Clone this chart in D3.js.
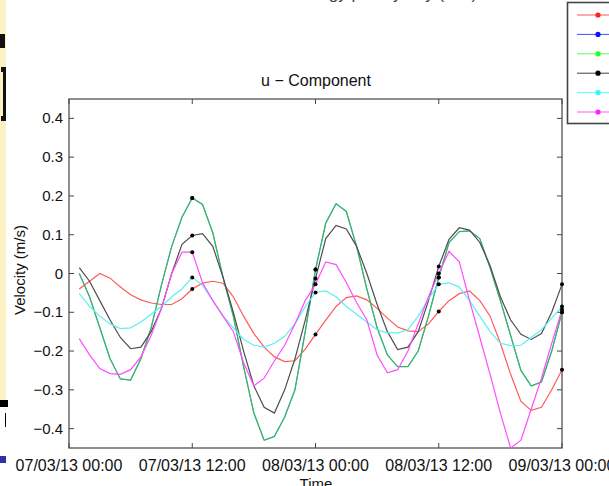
<!DOCTYPE html>
<html><head><meta charset="utf-8">
<script src="https://cdn.jsdelivr.net/npm/d3@7"></script>
<style>html,body{margin:0;padding:0;background:#fff;overflow:hidden}svg{display:block}text{font-family:"Liberation Sans",Arial,Helvetica,sans-serif}</style>
</head><body><svg id="c" width="609" height="486"></svg>
<script>
const hours = [1,2,3,4,5,6,7,8,9,10,11,12,13,14,15,16,17,18,19,20,21,22,23,24,25,26,27,28,29,30,31,32,33,34,35,36,37,38,39,40,41,42,43,44,45,46,47,48];
const red = [-0.04,-0.02,0.0,-0.012,-0.035,-0.055,-0.068,-0.076,-0.08,-0.08,-0.065,-0.04, -0.025,-0.02,-0.025,-0.06,-0.11,-0.155,-0.19,-0.215,-0.227,-0.225,-0.195,-0.157, -0.12,-0.085,-0.062,-0.058,-0.068,-0.09,-0.115,-0.138,-0.148,-0.15,-0.13,-0.098, -0.07,-0.052,-0.045,-0.07,-0.11,-0.18,-0.26,-0.33,-0.353,-0.345,-0.3,-0.248];
const green = [0.0,-0.06,-0.14,-0.22,-0.272,-0.275,-0.22,-0.14,-0.03,0.07,0.145,0.195, 0.178,0.105,-0.01,-0.11,-0.24,-0.36,-0.43,-0.42,-0.37,-0.3,-0.15,0.01, 0.13,0.18,0.16,0.07,-0.04,-0.14,-0.21,-0.24,-0.24,-0.2,-0.11,-0.01, 0.08,0.108,0.11,0.09,0.015,-0.07,-0.16,-0.25,-0.29,-0.28,-0.2,-0.1];
const blue = [0.0,-0.06,-0.14,-0.22,-0.272,-0.275,-0.22,-0.14,-0.03,0.07,0.145,0.195, 0.178,0.105,-0.01,-0.11,-0.24,-0.36,-0.43,-0.42,-0.37,-0.3,-0.15,0.01, 0.13,0.18,0.16,0.07,-0.04,-0.14,-0.21,-0.24,-0.24,-0.2,-0.11,-0.01, 0.08,0.108,0.11,0.09,0.015,-0.07,-0.16,-0.25,-0.29,-0.28,-0.2,-0.1];
const black = [0.015,-0.02,-0.07,-0.12,-0.165,-0.194,-0.19,-0.15,-0.09,0.0,0.075,0.098, 0.103,0.07,-0.01,-0.1,-0.2,-0.29,-0.345,-0.36,-0.3,-0.22,-0.12,-0.013, 0.09,0.124,0.115,0.07,0.0,-0.08,-0.15,-0.196,-0.19,-0.15,-0.07,0.018, 0.088,0.118,0.112,0.08,0.02,-0.06,-0.12,-0.157,-0.17,-0.155,-0.1,-0.028];
const cyan = [-0.052,-0.085,-0.11,-0.13,-0.142,-0.14,-0.125,-0.105,-0.085,-0.06,-0.04,-0.01, -0.03,-0.07,-0.11,-0.14,-0.17,-0.185,-0.19,-0.18,-0.162,-0.13,-0.085,-0.049, -0.045,-0.06,-0.085,-0.105,-0.125,-0.145,-0.153,-0.153,-0.145,-0.11,-0.065,-0.028, -0.024,-0.035,-0.07,-0.11,-0.15,-0.18,-0.186,-0.185,-0.165,-0.145,-0.115,-0.085];
const magenta = [-0.168,-0.21,-0.245,-0.258,-0.26,-0.248,-0.215,-0.16,-0.09,0.0,0.055,0.055, -0.024,-0.07,-0.11,-0.15,-0.23,-0.29,-0.27,-0.225,-0.185,-0.13,-0.07,-0.028, 0.03,0.023,-0.023,-0.075,-0.12,-0.21,-0.256,-0.248,-0.2,-0.13,-0.06,0.0, 0.057,0.03,-0.07,-0.165,-0.26,-0.36,-0.45,-0.43,-0.35,-0.27,-0.18,-0.093];
const markedHours = [12,24,36,48];
const xTickHours = [0,12,24,36,48];
const xTickLabels = ["07/03/13 00:00","07/03/13 12:00","08/03/13 00:00","08/03/13 12:00","09/03/13 00:00"];
const yTicks = [-0.4,-0.3,-0.2,-0.1,0,0.1,0.2,0.3,0.4];
const seriesNames = ["Series 1","Series 2","Series 3","Series 4","Series 5","Series 6"];
const lineColors = ["#ff5a5a","#3a3aff","#33b865","#4e4e4e","#5cf0f0","#ff4cff"];
const lineWidths = [1.2,0.6,1.3,1.2,1.2,1.2];
const legendColors = ["#ff2020","#1010ff","#20ff20","#000000","#20ffff","#ff20ff"];

const series = [red, blue, green, black, cyan, magenta];
const svg = d3.select("#c");
const L=69, R=562, T=99, B=448;
const x = d3.scaleLinear().domain([0,48]).range([L,R]);
const y = d3.scaleLinear().domain([-0.45,0.45]).range([B,T]);

// left-edge artifacts
svg.append("rect").attr("x",0).attr("y",0).attr("width",6).attr("height",400).attr("fill","#fdf2c4");
svg.append("rect").attr("x",0).attr("y",34).attr("width",5).attr("height",14).attr("fill","#111");
svg.append("rect").attr("x",1).attr("y",67).attr("width",5).attr("height",54).attr("fill","#111");
svg.append("rect").attr("x",0).attr("y",72).attr("width",3).attr("height",44).attr("fill","#fdf2c4");
svg.append("rect").attr("x",0).attr("y",400).attr("width",8).attr("height",7).attr("fill","#000");
svg.append("rect").attr("x",5).attr("y",413).attr("width",1).attr("height",14).attr("fill","#000");
svg.append("rect").attr("x",0).attr("y",456).attr("width",6).attr("height",7).attr("fill","#3030a8");

// cut-off text at very top (only descenders visible)
svg.append("text").attr("x",385).attr("y",-1.5).attr("text-anchor","middle").attr("font-size",17).attr("fill","#444").text("Energy plot by day (m/s)");

// axes box
const axisColor="#444";
svg.append("rect").attr("x",L).attr("y",T).attr("width",R-L).attr("height",B-T).attr("fill","none").attr("stroke",axisColor).attr("stroke-width",1.2);

const tk = svg.append("g").attr("stroke",axisColor).attr("stroke-width",1);
yTicks.forEach(v=>{
  tk.append("line").attr("x1",L).attr("x2",L+5).attr("y1",y(v)).attr("y2",y(v));
  tk.append("line").attr("x1",R).attr("x2",R-5).attr("y1",y(v)).attr("y2",y(v));
});
xTickHours.forEach(h=>{
  tk.append("line").attr("x1",x(h)).attr("x2",x(h)).attr("y1",B).attr("y2",B-5);
  tk.append("line").attr("x1",x(h)).attr("x2",x(h)).attr("y1",T).attr("y2",T+5);
});
const fmt = v => v===0 ? "0" : (v<0 ? "\u2212"+d3.format(".1f")(-v) : d3.format(".1f")(v));
svg.append("g").selectAll("text").data(yTicks).join("text")
  .attr("x",L-6).attr("y",d=>y(d)+5).attr("text-anchor","end").attr("font-size",15).attr("fill","#111").text(fmt);
svg.append("g").selectAll("text").data(xTickHours).join("text")
  .attr("x",d=>x(d)).attr("y",471).attr("text-anchor","middle").attr("font-size",16).attr("fill","#111").text((d,i)=>xTickLabels[i]);

svg.append("text").attr("x",316).attr("y",86).attr("text-anchor","middle").attr("font-size",16).attr("fill","#111").text("u \u2212 Component");
svg.append("text").attr("transform","translate(25,270) rotate(-90)").attr("text-anchor","middle").attr("font-size",15).attr("fill","#111").text("Velocity (m/s)");
svg.append("text").attr("x",316).attr("y",489).attr("text-anchor","middle").attr("font-size",15).attr("fill","#111").text("Time");

// lines
const line = d3.line().x((d,i)=>x(hours[i])).y(d=>y(d));
const plot = svg.append("g");
series.forEach((s,k)=>{
  plot.append("path").datum(s).attr("d",line).attr("fill","none").attr("stroke",lineColors[k]).attr("stroke-width",lineWidths[k]);
});
series.forEach((s,k)=>{
  markedHours.forEach(h=>{
    const i = hours.indexOf(h);
    plot.append("circle").attr("cx",x(h)).attr("cy",y(s[i])).attr("r",2).attr("fill","#000");
  });
});

// legend (cut off at right edge)
const lg = svg.append("g");
lg.append("rect").attr("x",567.5).attr("y",2.5).attr("width",60).attr("height",121).attr("fill","#fff").attr("stroke","#444").attr("stroke-width",1.6);
seriesNames.forEach((n,k)=>{
  const yy = 15 + k*19.4;
  lg.append("line").attr("x1",577).attr("x2",612).attr("y1",yy).attr("y2",yy).attr("stroke",legendColors[k]).attr("stroke-width",1).attr("opacity",0.75);
  lg.append("circle").attr("cx",598).attr("cy",yy).attr("r",2.6).attr("fill",legendColors[k]);
  lg.append("text").attr("x",620).attr("y",yy+5).attr("font-size",14).text(n);
});
</script></body></html>
